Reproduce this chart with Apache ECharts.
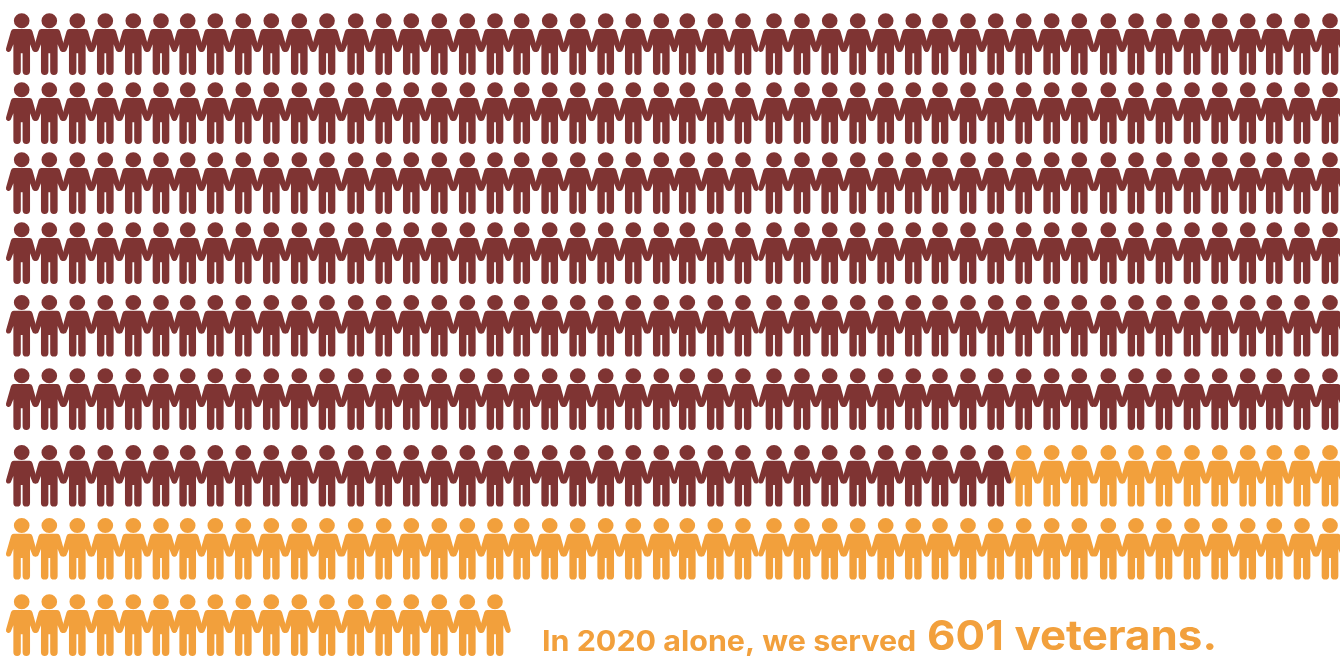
<!DOCTYPE html>
<html>
<head>
<meta charset="utf-8">
<style>html,body{margin:0;padding:0;background:#fff}#c{width:1340px;height:656px}</style>
<script src="https://cdn.jsdelivr.net/npm/echarts@6/dist/echarts.min.js"></script>
</head>
<body>
<div id="c"></div>
<script>
const columnCentres = [21.7,49.3,77.3,105.3,133.3,161,187.7,215.3,243.3,271.3,299.3,327,355.7,383.7,411.3,439.3,
  467.3,495,521.7,549.7,577.7,605.7,633.3,661.3,687.3,715.3,743,774,802,829.7,857.7,885.7,
  913.3,940,968,995.7,1023.7,1051.7,1079.3,1108.3,1136,1164,1192,1219.7,1247.7,1274.3,1302,1330];
const rowCentres = [44.1,113.1,183.1,253.1,325.8,399.1,475.8,548.8,625.1];
const maroonPerRow = [48,48,48,48,48,48,36,0,0];
const orangePerRow = [0,0,0,0,0,0,12,48,18];
const captionLead = 'In 2020 alone, we served';
const captionBold = '601 veterans.';

const maroon = '#7f3433', orange = '#f2a03c';
const person = 'path://M-7.8 7.5A7.8 7.5 0 1 1 7.8 7.5A7.8 7.5 0 1 1 -7.8 7.5Z' +
  'M-7.8 15.8L7.8 15.8Q9.9 15.8 10.7 18L15.6 35.3Q16.2 37.6 14.2 38.5Q11.8 39.2 10.8 37.2L8.3 31L8.3 58A3.6 3.6 0 0 1 0.9 58L0.9 40L-0.9 40L-0.9 58A3.6 3.6 0 0 1 -8.3 58L-8.3 31L-10.8 37.2Q-11.8 39.2 -14.2 38.5Q-16.2 37.6 -15.6 35.3L-10.7 18Q-9.9 15.8 -7.8 15.8Z';

const maroonPts = [], orangePts = [];
rowCentres.forEach((y, r) => {
  for (let i = 0; i < maroonPerRow[r]; i++) maroonPts.push([columnCentres[i], y]);
  for (let i = 0; i < orangePerRow[r]; i++) orangePts.push([columnCentres[maroonPerRow[r] + i], y]);
});

const series = (data, color, z) => ({
  type: 'scatter', data, z, symbol: person, symbolSize: [31.6, 61.6], clip: true,
  itemStyle: { color, opacity: 1 }, silent: true, animation: false
});

const chart = echarts.init(document.getElementById('c'), null, { renderer: 'canvas' });
chart.setOption({
  animation: false,
  backgroundColor: '#ffffff',
  grid: { left: 0, right: 0, top: 0, bottom: 0 },
  xAxis: { type: 'value', min: 0, max: 1340, show: false },
  yAxis: { type: 'value', min: 0, max: 656, inverse: true, show: false },
  tooltip: { show: false },
  series: [series(orangePts, orange, 2), series(maroonPts, maroon, 3)],
  graphic: [
    { type: 'text', x: 542, y: 629, scaleX: 1.087, z: 10, style: { text: captionLead, fill: orange, font: '700 28px Inter' } },
    { type: 'text', x: 927, y: 617, scaleX: 1.07, z: 10, style: { text: captionBold, fill: orange, font: '700 41px Inter' } }
  ]
});
</script>
</body>
</html>
